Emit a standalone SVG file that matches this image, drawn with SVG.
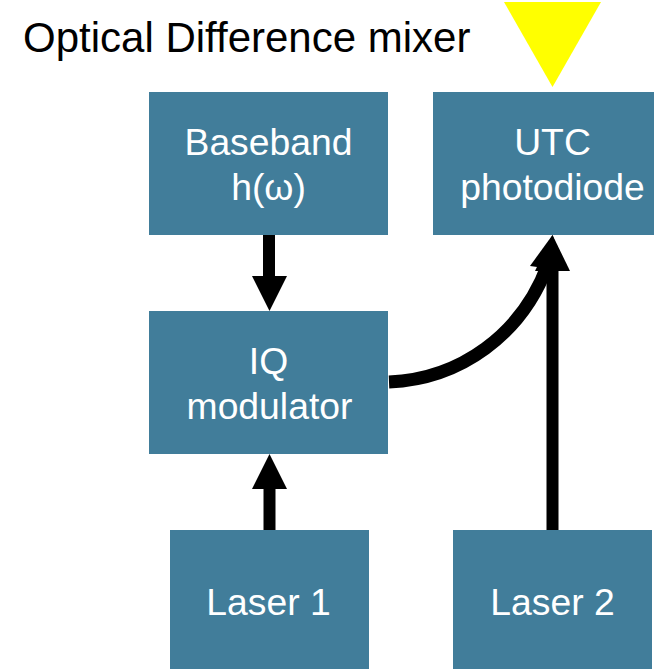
<svg xmlns="http://www.w3.org/2000/svg" width="654" height="669" viewBox="0 0 654 669">
<style>
.n{fill:#417d9a}
.t{font-family:"Liberation Sans",Arial,sans-serif;font-size:37.300px;fill:#fff;text-anchor:middle}
.c{fill:none;stroke:#000;stroke-width:12}
.h{fill:#000}
</style>
<rect width="654" height="669" fill="#fff"/>
<text x="23" y="52" font-family="Liberation Sans, Arial, sans-serif" font-size="42" fill="#000">Optical Difference mixer</text>
<polygon points="504,2 601,2 552.500,87" fill="#ffff00"/>
<g id="connectors">
<path class="c" d="M269 235V276"/><polygon class="h" points="252,276 287,276 269.500,311"/>
<path class="c" d="M269.500 530V489"/><polygon class="h" points="252,489 287,489 269.500,454"/>
<path class="c" d="M552.500 530V270"/><polygon class="h" points="535,271 570,271 552.500,235"/>
<path class="c" style="stroke-width:13" d="M389 382C460 379 522 335 548 264"/><polygon class="h" points="530,266 566,271 552.500,235"/>
</g>
<g id="baseband"><rect class="n" x="149" y="92" width="239" height="143"/><text class="t" x="268.500" y="155">Baseband</text><text class="t" x="268.500" y="200">h(ω)</text></g>
<g id="utc"><rect class="n" x="433" y="92" width="221" height="143"/><text class="t" x="552.500" y="155">UTC</text><text class="t" x="552.500" y="200">photodiode</text></g>
<g id="iq"><rect class="n" x="149" y="311" width="239" height="143"/><text class="t" x="268.500" y="374">IQ</text><text class="t" x="269.500" y="419">modulator</text></g>
<g id="laser1"><rect class="n" x="170" y="530" width="199" height="139"/><text class="t" x="268.500" y="615">Laser 1</text></g>
<g id="laser2"><rect class="n" x="453" y="530" width="199" height="139"/><text class="t" x="552.500" y="615">Laser 2</text></g>
</svg>
